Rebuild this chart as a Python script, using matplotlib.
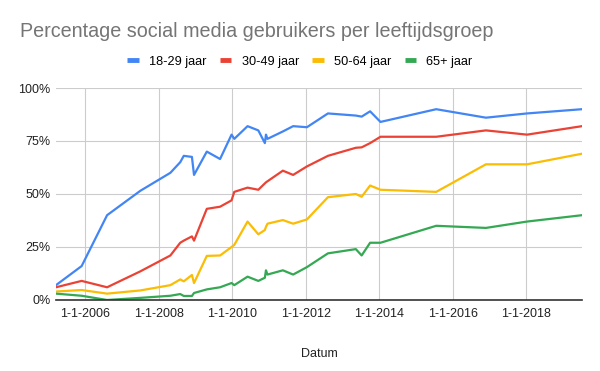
import matplotlib
matplotlib.use('Agg')
import matplotlib.pyplot as plt
import matplotlib.dates as mdates
import pandas as pd

plt.rcParams['font.family'] = ['Liberation Sans', 'DejaVu Sans']

# survey dates, shared by all age groups
dates = ['2005-03-15', '2005-11-25', '2006-08-05', '2007-07-01', '2008-04-25',
         '2008-08-01', '2008-09-05', '2008-11-25', '2008-12-16', '2009-04-22',
         '2009-09-01', '2009-12-24', '2010-01-20', '2010-06-01', '2010-09-16',
         '2010-11-20', '2010-12-01', '2010-12-16', '2011-05-18', '2011-08-28',
         '2012-01-12', '2012-08-08', '2013-05-12', '2013-07-09', '2013-10-01',
         '2014-01-12', '2015-07-20', '2016-11-25', '2018-01-08', '2019-07-08']

jong = [7, 16, 40, 51.5, 60, 65, 68, 67.5, 59, 70,
        66.5, 78, 76, 82, 80, 74, 78, 76, 79.5, 82,
        81.5, 88, 87, 86.5, 89, 84, 90, 86, 88, 90]
midden = [6, 9, 6, 13.5, 21, 27, 28, 30, 28, 43,
          44, 47, 51, 53, 52, 55, 55.5, 56, 61, 59,
          63, 68, 71.8, 72, 74, 77, 77, 80, 78, 82]
ouder = [4, 4.7, 3, 4.5, 7, 9.7, 8.8, 11.8, 8, 20.8,
         21, 25, 26, 37, 31, 33, 34.5, 36, 37.7, 36,
         38, 48.5, 50, 48.7, 54, 52, 51, 64, 64, 69]
senior = [3, 2, 0, 1, 2, 2.8, 1.9, 1.9, 3.3, 5,
          6, 8, 7, 11, 9, 10.5, 14, 12, 14, 12,
          15.5, 22, 24, 21, 27, 27, 35, 34, 37, 40]

labels = ['18-29 jaar', '30-49 jaar', '50-64 jaar', '65+ jaar']
colors = ['#4285F4', '#EA4335', '#FBBC04', '#34A853']

x = pd.to_datetime(dates)

fig = plt.figure(figsize=(6, 3.71), dpi=100)
ax = fig.add_axes([0.0933, 0.1914, 0.8767, 0.5714])

for vals, lab, col in zip([jong, midden, ouder, senior], labels, colors):
    ax.plot(x, vals, color=col, lw=1.6, label=lab, solid_joinstyle='round')

ax.set_ylim(0, 100)
ax.set_xlim(x[0], x[-1])
ax.set_yticks([0, 25, 50, 75, 100])
ax.set_yticklabels(['0%', '25%', '50%', '75%', '100%'])
ax.set_xticks(pd.to_datetime(['2006-01-01', '2008-01-01', '2010-01-01', '2012-01-01',
                              '2014-01-01', '2016-01-01', '2018-01-01']))
ax.xaxis.set_major_formatter(mdates.DateFormatter('1-1-%Y'))

ax.grid(True, color='#cccccc', lw=0.8)
ax.set_axisbelow(True)
for s in ['top', 'right', 'left']:
    ax.spines[s].set_visible(False)
ax.spines['bottom'].set_color('#333333')
ax.spines['bottom'].set_linewidth(1.2)
ax.spines['bottom'].set_zorder(5)
ax.tick_params(length=0, labelsize=9, colors='#222222', pad=6)
ax.tick_params(axis='y', pad=4)

ax.set_xlabel('Datum', fontsize=9, color='#222222', labelpad=20)

fig.text(0.033, 0.9, 'Percentage social media gebruikers per leeftijdsgroep',
         fontsize=14.2, color='#757575', va='baseline')

leg = fig.legend(loc='center', bbox_to_anchor=(0.5, 0.834), ncol=4, frameon=False,
                 fontsize=9.2, handlelength=0.9, handletextpad=0.8, columnspacing=1.05)
for h in leg.get_lines():
    h.set_linewidth(3.5)
    h.set_solid_capstyle('butt')

fig.savefig('out.png', dpi=100)
